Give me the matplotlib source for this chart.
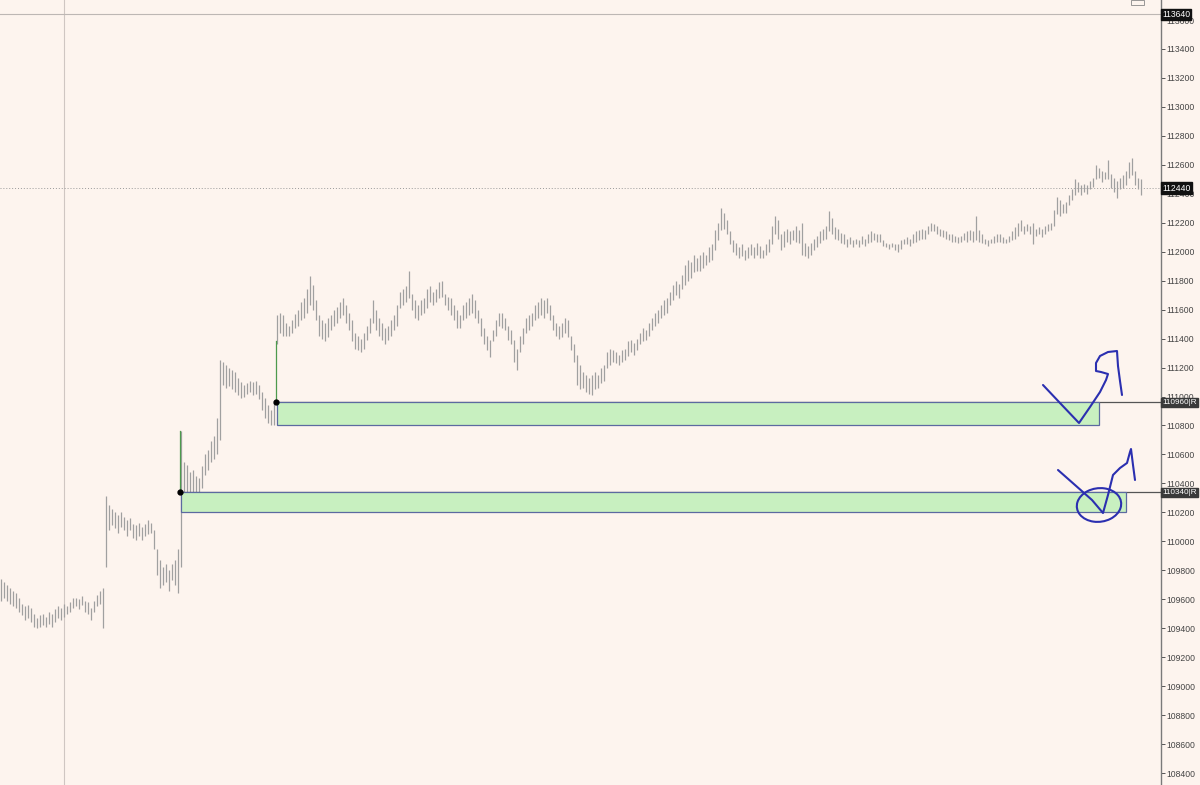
import matplotlib
matplotlib.use("Agg")
import matplotlib.pyplot as plt
from matplotlib.patches import Rectangle, Ellipse
import numpy as np

plt.rcParams['font.family'] = ['Liberation Sans', 'DejaVu Sans']

# ---------------- data (bar highs / lows, price units) ----------------
highs = [
    109740, 109720, 109700, 109680, 109660, 109640, 109610, 109570, 109550, 109560,
    109540, 109500, 109470, 109490, 109500, 109480, 109510, 109500, 109530, 109550,
    109540, 109570, 109550, 109580, 109610, 109610, 109600, 109620, 109590, 109580,
    109540, 109590, 109630, 109660, 109680, 110310, 110250, 110220, 110200, 110180,
    110200, 110170, 110150, 110160, 110120, 110110, 110130, 110100, 110120, 110150,
    110130, 110080, 109950, 109870, 109820, 109840, 109800, 109840, 109870, 109950,
    110760, 110550, 110530, 110480, 110490, 110450, 110440, 110520, 110600, 110630,
    110690, 110730, 110850, 111250, 111240, 111220, 111200, 111180, 111170, 111130,
    111100, 111080, 111090, 111110, 111100, 111110, 111080, 111030, 110990, 110940,
    110910, 110960, 111560, 111580, 111560, 111510, 111490, 111530, 111570, 111600,
    111650, 111680, 111740, 111830, 111770, 111670, 111560, 111530, 111510, 111540,
    111560, 111600, 111620, 111650, 111680, 111630, 111580, 111530, 111440, 111420,
    111400, 111440, 111490, 111540, 111670, 111600, 111540, 111510, 111470, 111490,
    111530, 111560, 111630, 111720, 111740, 111760, 111870, 111710, 111670, 111630,
    111670, 111680, 111740, 111760, 111720, 111740, 111790, 111800, 111710, 111690,
    111680, 111630, 111600, 111560, 111630, 111650, 111680, 111710, 111670, 111600,
    111540, 111470, 111420, 111390, 111460, 111530, 111580, 111580, 111540, 111490,
    111460, 111390, 111330, 111420, 111470, 111540, 111560, 111580, 111630, 111650,
    111680, 111670, 111680, 111630, 111560, 111510, 111490, 111510, 111540, 111530,
    111420, 111360, 111290, 111220, 111170, 111150, 111130, 111150, 111170, 111150,
    111200, 111220, 111310, 111330, 111320, 111310, 111290, 111320, 111330, 111380,
    111390, 111370, 111400, 111440, 111470, 111460, 111510, 111540, 111580, 111600,
    111630, 111670, 111680, 111720, 111770, 111800, 111780, 111840, 111910, 111940,
    111930, 111980, 111960, 111980, 112000, 111980, 112030, 112050, 112150, 112200,
    112300, 112270, 112220, 112140, 112080, 112060, 112030, 112050, 112010, 112030,
    112050, 112030, 112060, 112040, 112010, 112050, 112090, 112180, 112250, 112220,
    112120, 112140, 112160, 112140, 112150, 112180, 112150, 112200, 112060, 112040,
    112060, 112090, 112110, 112140, 112160, 112180, 112280, 112230, 112170, 112160,
    112130, 112120, 112090, 112100, 112080, 112090, 112080, 112110, 112090, 112120,
    112140, 112130, 112120, 112120, 112080, 112060, 112050, 112060, 112050, 112050,
    112080, 112090, 112100, 112090, 112120, 112140, 112150, 112160, 112150, 112180,
    112200, 112190, 112180, 112160, 112150, 112140, 112120, 112120, 112110, 112100,
    112110, 112130, 112140, 112150, 112140, 112250, 112150, 112120, 112090, 112080,
    112090, 112110, 112120, 112120, 112100, 112090, 112110, 112140, 112170, 112200,
    112220, 112180, 112190, 112180, 112200, 112160, 112170, 112160, 112180, 112190,
    112200, 112290, 112380, 112360, 112330, 112340, 112390, 112430, 112500, 112480,
    112460, 112470, 112460, 112490, 112510, 112600, 112580, 112560, 112550, 112630,
    112540, 112510, 112490, 112510, 112530, 112560, 112620, 112650, 112560, 112510,
    112500,
]
lows = [
    109590, 109610, 109590, 109570, 109550, 109540, 109510, 109490, 109460, 109470,
    109440, 109410, 109400, 109410, 109420, 109410, 109430, 109410, 109440, 109470,
    109460, 109480, 109500, 109510, 109540, 109550, 109530, 109560, 109510, 109500,
    109460, 109510, 109550, 109570, 109400, 109820, 110080, 110110, 110090, 110060,
    110100, 110080, 110040, 110080, 110020, 110010, 110040, 110010, 110040, 110050,
    110060, 109950, 109770, 109680, 109700, 109720, 109660, 109730, 109700, 109640,
    109820, 110330, 110280, 110250, 110300, 110320, 110340, 110370, 110460, 110490,
    110550, 110570, 110600, 110700, 111080, 111060, 111070, 111050, 111030, 111010,
    110990, 111000, 111020, 111030, 111010, 111020, 110980, 110910, 110850, 110820,
    110800, 110800, 111360, 111440, 111420, 111420, 111420, 111440, 111470, 111490,
    111530, 111540, 111580, 111630, 111600, 111530, 111420, 111400, 111380, 111410,
    111460, 111490, 111510, 111540, 111560, 111510, 111460, 111380, 111330, 111320,
    111310, 111330, 111390, 111440, 111510, 111460, 111420, 111390, 111360, 111390,
    111420, 111460, 111490, 111610, 111630, 111650, 111680, 111600, 111540, 111530,
    111560, 111580, 111610, 111650, 111630, 111650, 111680, 111690, 111630, 111600,
    111560, 111530, 111470, 111470, 111530, 111540, 111560, 111580, 111540, 111510,
    111420, 111360, 111320, 111270, 111380, 111420, 111490, 111470, 111460, 111390,
    111360, 111240, 111180, 111310, 111360, 111440, 111460, 111490, 111530, 111540,
    111560, 111540, 111580, 111530, 111460, 111420, 111400, 111410, 111440, 111410,
    111320, 111240, 111080, 111050, 111060, 111030, 111020, 111010, 111050, 111060,
    111090, 111110, 111200, 111220, 111240, 111230, 111220, 111240, 111250, 111280,
    111310, 111290, 111320, 111360, 111380, 111390, 111420, 111460, 111490, 111510,
    111540, 111560, 111580, 111630, 111670, 111700, 111680, 111740, 111770, 111800,
    111820, 111860, 111870, 111870, 111890, 111910, 111930, 111940, 112010, 112080,
    112150, 112160, 112120, 112050, 112000, 111980, 111960, 111970, 111940, 111960,
    111980, 111960, 111980, 111960, 111960, 111980, 112000, 112050, 112120, 112090,
    112010, 112030, 112070, 112050, 112080, 112070, 112060, 111980, 111970, 111960,
    111980, 112010, 112030, 112060, 112080, 112090, 112140, 112120, 112090, 112080,
    112060, 112050, 112030, 112050, 112030, 112050, 112030, 112050, 112040, 112060,
    112070, 112080, 112070, 112070, 112040, 112030, 112020, 112030, 112010, 112000,
    112020, 112050, 112050, 112040, 112060, 112070, 112080, 112090, 112090, 112120,
    112140, 112140, 112120, 112110, 112100, 112090, 112080, 112070, 112070, 112060,
    112070, 112080, 112070, 112080, 112070, 112080, 112070, 112060, 112050, 112040,
    112060, 112060, 112070, 112070, 112060, 112060, 112070, 112080, 112090, 112110,
    112140, 112120, 112140, 112120, 112050, 112110, 112120, 112100, 112120, 112140,
    112150, 112180, 112260, 112250, 112270, 112270, 112320, 112360, 112390, 112410,
    112390, 112410, 112400, 112430, 112450, 112500, 112510, 112480, 112500, 112500,
    112440, 112410, 112370, 112430, 112440, 112460, 112510, 112530, 112460, 112430,
    112390,
]

y_ticks = list(range(108400, 113601, 200))
last_price = 112440
top_line_price = 113640
session_break_bar = 21

zone_starts = [92, 60]
zone_ends = [366, 375]
zone_tops = [110960, 110340]
zone_bottoms = [110800, 110200]
zone_labels = ["110960|R", "110340|R"]
zone_stems = [111380, 110760]

# ---------------- styling ----------------
BG = "#fdf4ee"
BAR = "#a0a0a0"

W, H = 1200, 785
fig = plt.figure(figsize=(W / 100, H / 100), dpi=100, facecolor=BG)
ax_right_px = 1161
ax = fig.add_axes([0, 0, ax_right_px / W, 1])
ax.set_facecolor(BG)

n = len(highs)
xs = np.arange(n)
ax.vlines(xs, lows, highs, color=BAR, linewidth=0.9, zorder=3)

ax.set_xlim(-1 / 3, (ax_right_px - 1) / 3)
ymax = 113400 + 49 * 6.906
ymin = ymax - 785 * 6.906
ax.set_ylim(ymin, ymax)

# session separator
ax.axvline(session_break_bar, color="#cfc6c2", linewidth=0.8, zorder=1)

# top price line and last price dotted line
ax.axhline(top_line_price, color="#bdb7b4", linewidth=0.8, zorder=2)
ax.axhline(last_price, color="#9a9a9a", linewidth=0.7, linestyle=(0, (1, 2)), zorder=2)

# zones
for s, e, t, b, st in zip(zone_starts, zone_ends, zone_tops, zone_bottoms, zone_stems):
    ax.plot([s, (ax_right_px - 1) / 3 + 1], [t, t], color="#555555", linewidth=0.9, zorder=4)
    ax.add_patch(Rectangle((s, b), e - s, t - b, facecolor="#c8f0c0",
                           edgecolor="#5c6aa0", linewidth=0.9, zorder=5))
    ax.plot([s - 0.33, s - 0.33], [t, st], color="#4d9a4d", linewidth=0.9, zorder=6)
    ax.plot([s - 0.33], [t], marker="o", color="black", markersize=3.5, zorder=7)

# axis appearance
for sp in ["top", "left", "bottom"]:
    ax.spines[sp].set_visible(False)
ax.spines["right"].set_color("#7a7a7a")
ax.spines["right"].set_linewidth(1.0)
ax.set_xticks([])
ax.yaxis.tick_right()
ax.set_yticks(y_ticks)
ax.set_yticklabels([str(v) for v in y_ticks])
ax.tick_params(axis="y", direction="out", length=3, width=0.7, color="#555555",
               labelsize=6.2, labelcolor="#444444", pad=1)

# price boxes on axis
def price_box(price, text, fc, size):
    ax.annotate(text, xy=(1.0, price), xycoords=("axes fraction", "data"),
                xytext=(0.8, 0), textcoords="offset points", ha="left", va="center",
                fontsize=size, color="white", zorder=10, annotation_clip=False,
                bbox=dict(boxstyle="square,pad=0.12", fc=fc, ec=fc))

price_box(top_line_price, str(top_line_price), "#111111", 6.2)
price_box(last_price, str(last_price), "#111111", 6.2)
for t, lab in zip(zone_tops, zone_labels):
    price_box(t, lab, "#3a3a3a", 5.9)

# small icon at top right
fig.add_artist(Rectangle((1131 / W, 1 - 5 / H), 13 / W, 5 / H, transform=fig.transFigure,
                         facecolor="none", edgecolor="#888888", linewidth=0.6))

# hand-drawn blue annotations (pixel coords)
def fig_line(pts, **kw):
    px = np.array(pts, dtype=float)
    fig.add_artist(plt.Line2D(px[:, 0] / W, 1 - px[:, 1] / H, transform=fig.transFigure, **kw))

blue = dict(color="#2b2fb0", linewidth=1.5, solid_capstyle="round", solid_joinstyle="round")
fig_line([(1043, 385), (1060, 403), (1079, 423), (1090, 407), (1100, 392), (1106, 380),
          (1108, 374), (1101, 372), (1096, 371), (1096, 363), (1100, 356), (1108, 352),
          (1117, 351), (1118, 366), (1120, 381), (1122, 395)], **blue)
fig_line([(1058, 470), (1075, 485), (1092, 500), (1103, 513), (1108, 495), (1113, 475),
          (1120, 468), (1127, 463), (1130, 452), (1131, 449), (1133, 465), (1135, 480)], **blue)
e = Ellipse((1099 / W, 1 - 505 / H), 44 / W, 34 / H, angle=-12, transform=fig.transFigure,
            facecolor="none", edgecolor="#2b2fb0", linewidth=1.5)
fig.add_artist(e)

fig.savefig("out.png", dpi=100, facecolor=BG)
